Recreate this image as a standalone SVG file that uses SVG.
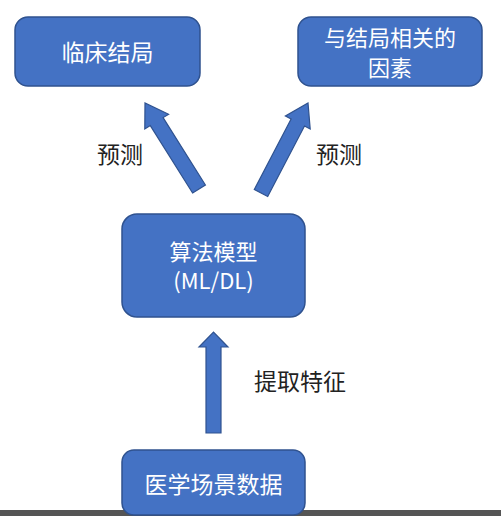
<svg xmlns="http://www.w3.org/2000/svg" width="501" height="516" viewBox="0 0 501 516">
<style>
.box{fill:#4472C4;stroke:#2F528F;stroke-width:1.5}
.bt{font-family:"Noto Sans CJK SC","Noto Sans",sans-serif;font-size:23px;fill:#ffffff;text-anchor:middle}
.bt2{font-family:"Noto Sans CJK SC","Noto Sans",sans-serif;font-size:22px;fill:#ffffff;text-anchor:middle}
.lbl{font-family:"Noto Sans CJK SC","Noto Sans",sans-serif;font-size:23px;fill:#222222;text-anchor:middle}
.arr{fill:#4472C4;stroke:#2F528F;stroke-width:1.2}
</style>
<rect x="0" y="0" width="501" height="516" fill="#ffffff"/>
<rect x="0" y="510" width="501" height="6" fill="#555555"/>
<g id="connectors">
<polygon class="arr" points="192.6,193 205.4,185 163.1,117.6 168.6,114.2 145,103 144.8,129 150.3,125.6"/>
<polygon class="arr" points="254.3,189.5 267.7,196.5 304.5,126 310.2,129 308,103 285.4,116 291.1,119"/>
<polygon class="arr" points="206,433 221,433 221,347 228,347 213.5,332 199,347 206,347"/>
<text class="lbl" x="120" y="163">预测</text>
<text class="lbl" x="339" y="163">预测</text>
<text class="lbl" x="300" y="390">提取特征</text>
</g>
<g id="node-outcome">
<rect class="box" x="15" y="17" width="185" height="69" rx="13"/>
<text class="bt" x="107.5" y="61">临床结局</text>
</g>
<g id="node-factors">
<rect class="box" x="298" y="17" width="184" height="69" rx="13"/>
<text class="bt2" x="390" y="46">与结局相关的</text>
<text class="bt2" x="390" y="76">因素</text>
</g>
<g id="node-model">
<rect class="box" x="122" y="214" width="183" height="103" rx="15"/>
<text class="bt2" x="213.5" y="260">算法模型</text>
<text class="bt2" x="213.5" y="289">(ML/DL)</text>
</g>
<g id="node-data">
<rect class="box" x="122" y="450" width="183" height="65" rx="12"/>
<text class="bt" x="213.5" y="493">医学场景数据</text>
</g>
</svg>
